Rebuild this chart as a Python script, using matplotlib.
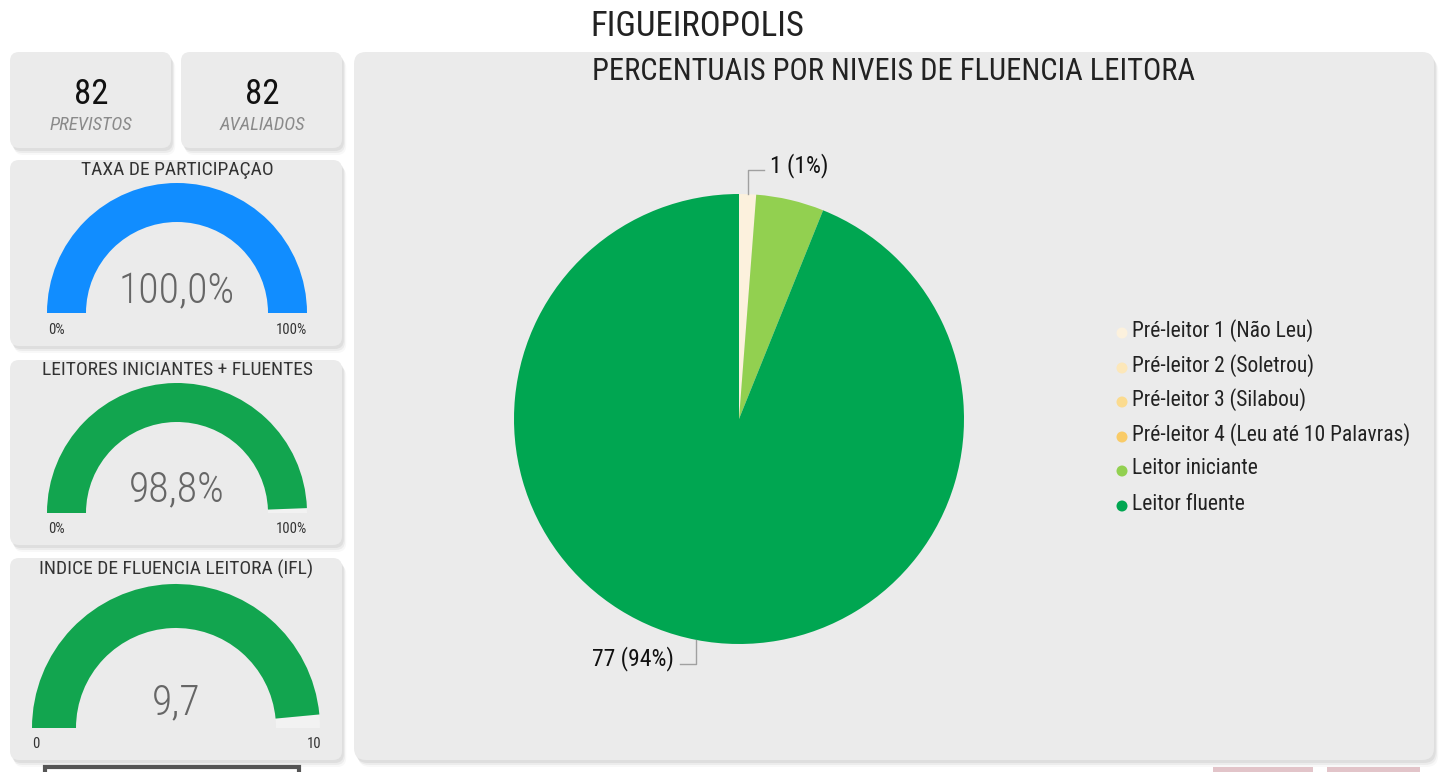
import matplotlib
matplotlib.use("Agg")
import matplotlib.pyplot as plt
import numpy as np
from matplotlib.patches import FancyBboxPatch, Wedge, Rectangle, Circle

plt.rcParams['font.family'] = ['Roboto Condensed', 'Roboto', 'DejaVu Sans']

W, H = 1440, 772

cidade = "FIGUEIROPOLIS"
previstos = 82
avaliados = 82

niveis = ["Pré-leitor 1 (Não Leu)", "Pré-leitor 2 (Soletrou)", "Pré-leitor 3 (Silabou)",
          "Pré-leitor 4 (Leu até 10 Palavras)", "Leitor iniciante", "Leitor fluente"]
qtd_niveis = [1, 0, 0, 0, 4, 77]
cores_niveis = ["#FCF1DD", "#FCE7B9", "#FBDB8F", "#F9CB67", "#92D050", "#00A651"]
rotulos_visiveis = [0, 5]  # so esses aparecem com rotulo no painel

gauge_titulos = ["TAXA DE PARTICIPAÇAO", "LEITORES INICIANTES + FLUENTES",
                 "INDICE DE FLUENCIA LEITORA (IFL)"]
gauge_valores = [100.0, 98.8, 9.7]
gauge_max = [100, 100, 10]
gauge_pct = [True, True, False]
gauge_min_lbl = ["0%", "0%", "0"]
gauge_max_lbl = ["100%", "100%", "10"]
gauge_cores = ["#118DFF", "#12A54F", "#12A54F"]

fig = plt.figure(figsize=(W / 100, H / 100), dpi=100)
fig.patch.set_facecolor("white")
ax = fig.add_axes([0, 0, 1, 1])
ax.set_xlim(0, W)
ax.set_ylim(0, H)
ax.axis("off")


def fy(y):
    # y de cima pra baixo -> coordenada do eixo
    return H - y


def card(x, y, w, h, r=9):
    for off, a in [(7, 0.06), (5, 0.10), (3, 0.14)]:
        ax.add_patch(FancyBboxPatch((x + off * 0.6, fy(y + h) - off), w, h,
                                    boxstyle=f"round,pad=0,rounding_size={r}",
                                    fc="#8c8c8c", ec="none", alpha=a, zorder=1))
    ax.add_patch(FancyBboxPatch((x, fy(y + h)), w, h,
                                boxstyle=f"round,pad=0,rounding_size={r}",
                                fc="#EBEBEB", ec="none", zorder=2))


# titulo
ax.text(697, fy(26), cidade, ha="center", va="center", fontsize=25, color="#222222")

# cartoes
card(10, 52, 161, 96)
card(181, 52, 161, 96)
card(10, 160, 332, 186)
card(10, 360, 332, 185)
card(10, 558, 332, 202)
card(354, 52, 1080, 708, r=12)

# pedacos cortados la embaixo
ax.add_patch(Rectangle((45, -10), 254, fy(767) + 10, fc="white", ec="#555555", lw=3, zorder=2))
for x0, x1 in [(1213, 1313), (1327, 1420)]:
    ax.add_patch(Rectangle((x0, -10), x1 - x0, fy(767) + 10, fc="#E2C4C9", ec="none", zorder=1))

for cx, lbl, num in [(91, "PREVISTOS", previstos), (262, "AVALIADOS", avaliados)]:
    ax.text(cx, fy(95), str(num), ha="center", va="center", fontsize=25,
            color="#111111", zorder=3)
    ax.text(cx, fy(125), lbl, ha="center", va="center", fontsize=13.5,
            style="italic", color="#8a8a8a", zorder=3)

# gauges
geo = [  # cx, base_y, r_out, r_in, title_y, val_y, lbl_y, x_min, x_max
    (177, 313, 130, 91, 170, 292, 330, 56, 291),
    (177, 513, 130, 91, 370, 490, 529, 56, 291),
    (176, 728, 144, 100, 569, 703, 744, 36, 314),
]
for i, (cx, by, ro, ri, ty, vy, ly, xmn, xmx) in enumerate(geo):
    frac = gauge_valores[i] / gauge_max[i]
    ang = 180 - 180 * frac
    ax.add_patch(Wedge((cx, fy(by)), ro, 0, ang, width=ro - ri, fc="#F2F2F2", ec="none", zorder=3))
    ax.add_patch(Wedge((cx, fy(by)), ro, ang, 180, width=ro - ri, fc=gauge_cores[i], ec="none", zorder=3))
    ax.text(cx, fy(ty), gauge_titulos[i], ha="center", va="center", fontsize=14,
            color="#333333", zorder=3)
    txt = f"{gauge_valores[i]:.1f}".replace(".", ",") + ("%" if gauge_pct[i] else "")
    ax.text(cx, fy(vy), txt, ha="center", va="center", fontsize=30, fontweight="light",
            color="#666666", zorder=3)
    ax.text(xmn, fy(ly), gauge_min_lbl[i], ha="center", va="center", fontsize=10.5, color="#333333", zorder=3)
    ax.text(xmx, fy(ly), gauge_max_lbl[i], ha="center", va="center", fontsize=10.5, color="#333333", zorder=3)

# pizza
ax.text(893, fy(71), "PERCENTUAIS POR NIVEIS DE FLUENCIA LEITORA", ha="center", va="center",
        fontsize=22, color="#222222", zorder=3)

pcx, pcy, pr = 739, fy(419), 225
wedges, _ = ax.pie(qtd_niveis, colors=cores_niveis, startangle=90, counterclock=False,
                   center=(pcx, pcy), radius=pr, wedgeprops=dict(linewidth=0, zorder=3))
ax.set_xlim(0, W)
ax.set_ylim(0, H)
ax.set_aspect("auto")
ax.axis("off")

total = sum(qtd_niveis)
for i in rotulos_visiveis:
    w = wedges[i]
    mid = np.deg2rad((w.theta1 + w.theta2) / 2)
    ex, ey = pcx + pr * np.cos(mid), pcy + pr * np.sin(mid)
    sy = 1 if np.sin(mid) > 0 else -1
    sx = 1 if np.cos(mid) > 0 else -1
    elby = ey + sy * 24
    ax.plot([ex, ex, ex + sx * 16], [ey, elby, elby], color="#a0a0a0", lw=1, zorder=4)
    lbl = f"{qtd_niveis[i]} ({qtd_niveis[i] / total * 100:.0f}%)"
    ax.text(ex + sx * 22, elby + 5, lbl, ha="left" if sx > 0 else "right", va="center",
            fontsize=17, color="#111111", zorder=4)

# legenda
leg_y = [331, 366, 400, 435, 469, 504]
for nome, cor, y in zip(niveis, cores_niveis, leg_y):
    ax.add_patch(Circle((1122, fy(y + 2)), 5.5, fc=cor, ec="none", zorder=4))
    ax.text(1132, fy(y), nome, ha="left", va="center", fontsize=15.5, color="#222222", zorder=4)

fig.savefig("out.png", dpi=100, facecolor="white")
